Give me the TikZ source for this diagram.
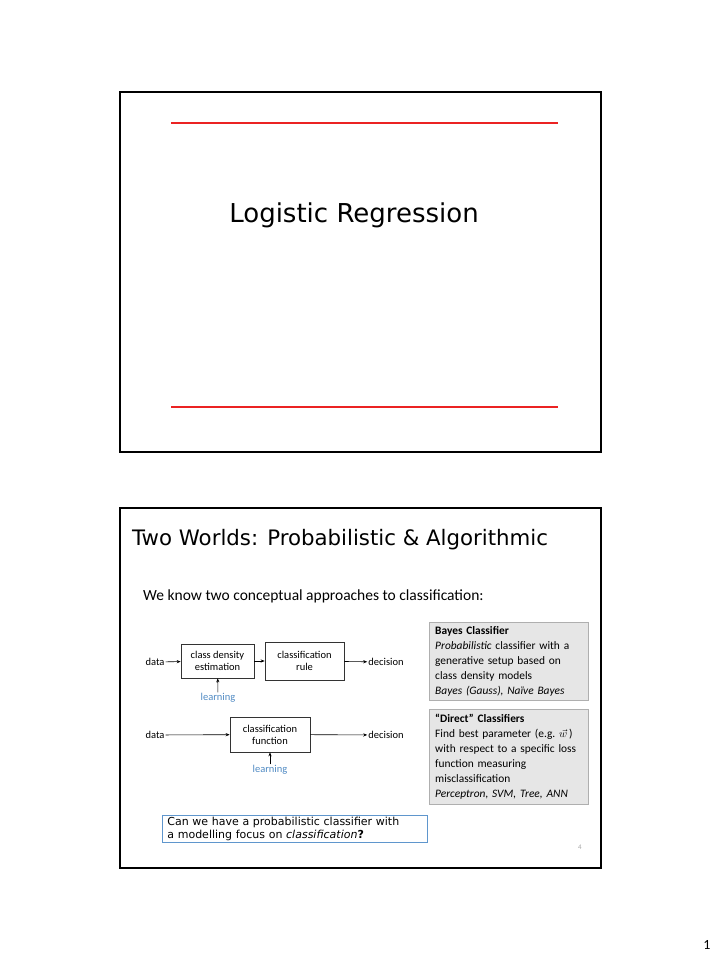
\documentclass[tikz,border=0pt]{standalone}
\usepackage{fontspec}
\setmainfont{Carlito}
\newfontfamily\slidefont{DejaVu Sans}
\usetikzlibrary{positioning,arrows.meta}
\definecolor{rulered}{RGB}{235,35,35}
\definecolor{learnblue}{RGB}{80,138,195}
\definecolor{infofill}{RGB}{230,230,230}
\definecolor{inforule}{RGB}{175,175,175}
\definecolor{askrule}{RGB}{95,150,205}
\tikzset{
  slide/.style={draw=black,line width=1.6pt},
  redrule/.style={draw=rulered,line width=1.3pt},
  block/.style={rectangle,draw=black!80,line width=0.7pt,align=center,inner sep=0pt,font=\fontsize{10.5}{12}\selectfont},
  label/.style={inner sep=1pt,font=\fontsize{10.5}{12}\selectfont},
  learn/.style={label,text=learnblue},
  infobox/.style={rectangle,draw=inforule,fill=infofill,anchor=north west,align=left,inner xsep=6pt,inner ysep=3pt,text width=147pt,font=\fontsize{11.4}{15}\selectfont},
  edge/.style={-{Stealth[length=4pt,width=3.2pt]},line width=0.6pt}
}
\begin{document}
\begin{tikzpicture}[x=1pt,y=-1pt]
  \useasboundingbox (0,0) rectangle (720,960);
  % title slide
  \draw[slide] (120,92) rectangle (601,452);
  \draw[redrule] (171,123) -- (558,123);
  \draw[redrule] (171,407) -- (558,407);
  \node[anchor=base,inner sep=0pt,font=\slidefont\fontsize{26}{30}\selectfont] (logtitle) at (354,222) {Logistic Regression};
  % second slide
  \draw[slide] (120,508) rectangle (601,868);
  \node[anchor=base west,inner sep=0pt,font=\slidefont\fontsize{21.3}{25}\selectfont] (worlds) at (132,545) {Two Worlds: Probabilistic \& Algorithmic};
  \node[anchor=base west,inner sep=0pt,font=\fontsize{15.5}{18}\selectfont] (intro) at (143,600) {We know two conceptual approaches to classification:};
  % probabilistic chain
  \node[block,minimum width=73pt,minimum height=34pt] (density) at (217.5,661) {class density\\estimation};
  \node[block,minimum width=79pt,minimum height=38pt] (rule) at (304.5,661) {classification\\rule};
  \node[label] (data1) at (155,662) {data};
  \node[label] (decision1) at (386,662) {decision};
  \node[learn] (learning1) at (218,698) {learning};
  \draw[edge] (data1) -- (density);
  \draw[edge] (density) -- (rule);
  \draw[edge] (rule) -- (decision1);
  \draw[edge] (learning1) -- (density);
  % direct chain
  \node[block,minimum width=80pt,minimum height=35pt] (function) at (270,734.5) {classification\\function};
  \node[label] (data2) at (155,735) {data};
  \node[label] (decision2) at (386,735) {decision};
  \node[learn] (learning2) at (270,770) {learning};
  \draw[edge] (data2) -- (function);
  \draw[edge] (function) -- (decision2);
  \draw[edge] (learning2) -- (function);
  % side notes
  \node[infobox,minimum height=78pt] (bayes) at (429,622) {\textbf{Bayes Classifier}\\\textit{Probabilistic} classifier with a\\generative setup based on\\class density models\\\textit{Bayes (Gauss), Naïve Bayes}};
  \node[infobox,minimum height=95pt] (direct) at (429,709) {\textbf{“Direct” Classifiers}\\Find best parameter (e.g.~$\vec{w}$\,)\\with respect to a specific loss\\function measuring\\misclassification\\\textit{Perceptron, SVM, Tree, ANN}};
  \node[rectangle,draw=askrule,line width=0.8pt,anchor=north west,align=left,text width=255pt,minimum height=27pt,inner xsep=5pt,inner ysep=2pt,font=\slidefont\fontsize{11}{12.5}\selectfont] (question) at (162,815) {Can we have a probabilistic classifier with\\a modelling focus on \textit{classification}\textbf{?}};
  \node[text=black!35,font=\fontsize{7}{8}\selectfont] (slideno) at (580,847) {4};
  \node[font=\fontsize{14}{16}\selectfont] (pageno) at (707,945) {1};
\end{tikzpicture}
\end{document}
